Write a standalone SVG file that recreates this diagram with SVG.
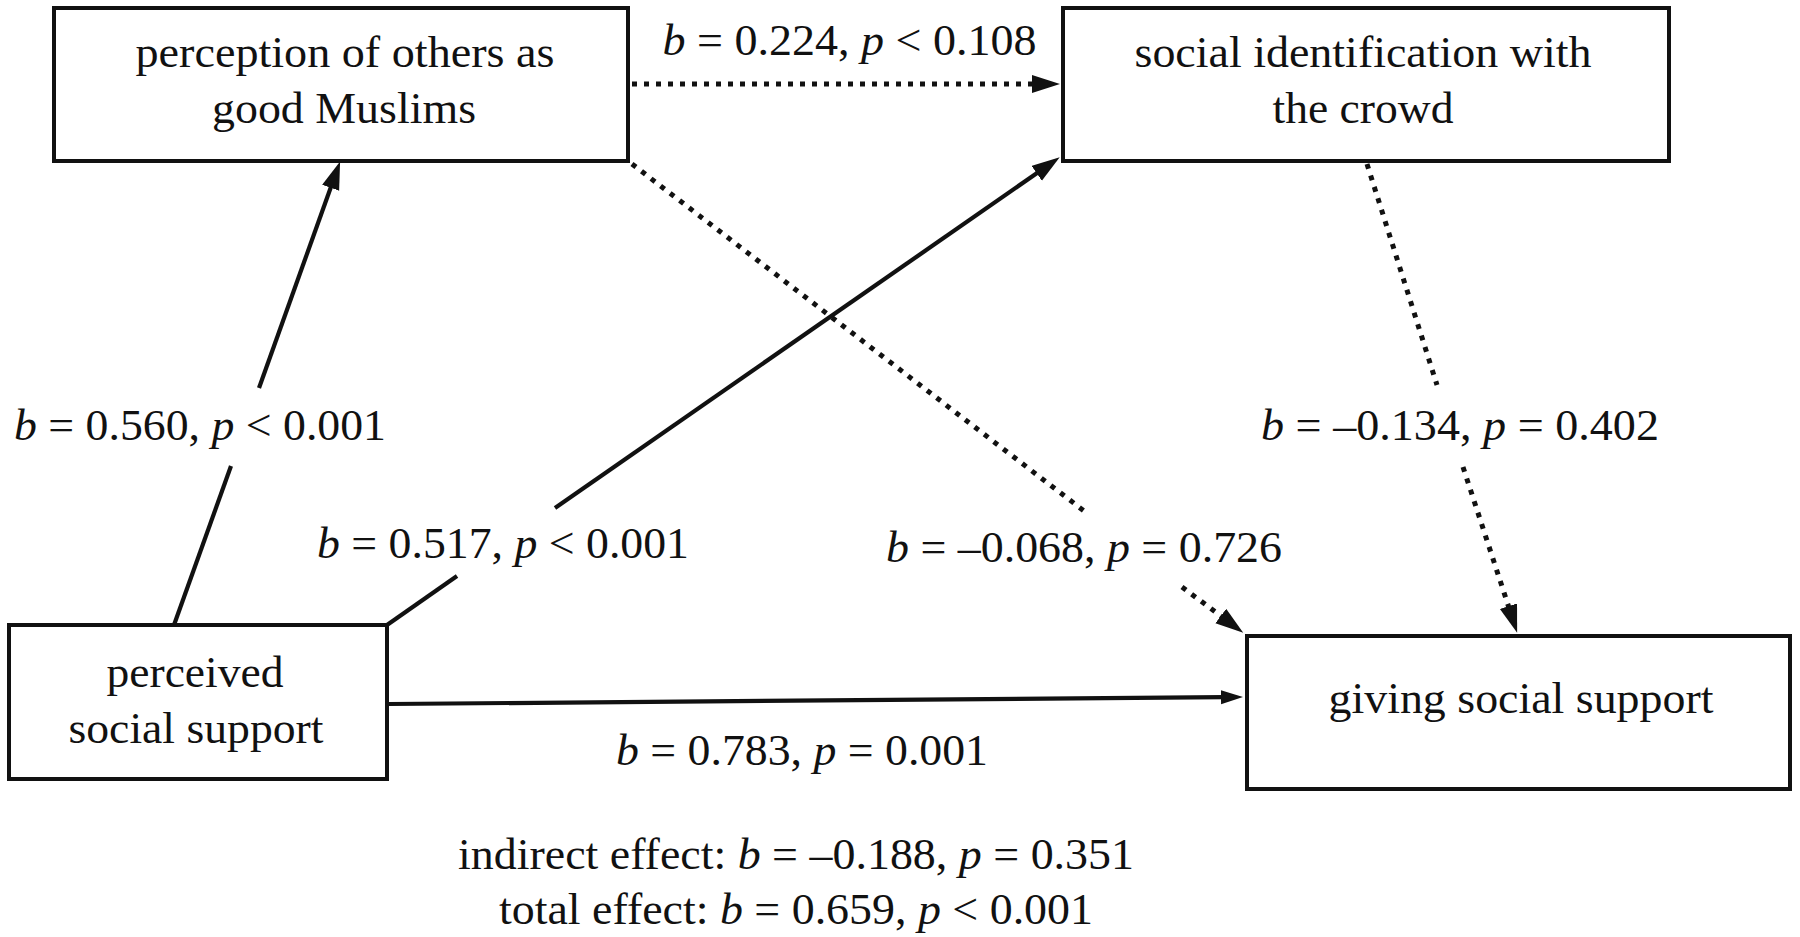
<svg xmlns="http://www.w3.org/2000/svg" width="1800" height="937" viewBox="0 0 1800 937">
<style>
.box{fill:#fff;stroke:#111;stroke-width:4}
.t{font-family:"Liberation Serif","Times New Roman",serif;font-size:44px;fill:#111;text-anchor:middle}
.i{font-style:italic}
.solid{fill:none;stroke:#111;stroke-width:4.2}
.dot{fill:none;stroke:#111;stroke-width:5;stroke-dasharray:5 7}
</style>
<defs>
<marker id="ah" markerUnits="userSpaceOnUse" markerWidth="30" markerHeight="20" refX="4" refY="9" orient="auto">
<path d="M0,0 L28,9 L0,18 z" fill="#111"/>
</marker>
<marker id="ahs" markerUnits="userSpaceOnUse" markerWidth="24" markerHeight="16" refX="3" refY="7" orient="auto">
<path d="M0,0 L22,7 L0,14 z" fill="#111"/>
</marker>
</defs>
<rect width="1800" height="937" fill="#fff"/>
<g id="connectors">
<line class="solid" x1="174" y1="625" x2="231" y2="466"/>
<line class="solid" x1="259" y1="388" x2="332" y2="184" marker-end="url(#ah)"/>
<line class="solid" x1="387" y1="625" x2="457" y2="576"/>
<line class="solid" x1="555" y1="508" x2="1040" y2="171" marker-end="url(#ah)"/>
<line class="dot" x1="632" y1="84" x2="1036" y2="84" marker-end="url(#ah)"/>
<line class="dot" x1="632" y1="164" x2="1088" y2="514"/>
<line class="dot" x1="1182" y1="587" x2="1224" y2="618.4" marker-end="url(#ah)"/>
<line class="dot" x1="1367" y1="164" x2="1437" y2="385"/>
<line class="dot" x1="1463" y1="467" x2="1509.7" y2="610" marker-end="url(#ah)"/>
<line class="solid" x1="389" y1="704" x2="1224" y2="697.2" marker-end="url(#ahs)"/>
</g>
<g id="node-perception">
<rect class="box" x="54" y="8" width="574" height="153"/>
<text class="t" x="345" y="67" textLength="419" lengthAdjust="spacingAndGlyphs">perception of others as</text>
<text class="t" x="344" y="123" textLength="264" lengthAdjust="spacingAndGlyphs">good Muslims</text>
</g>
<g id="node-identification">
<rect class="box" x="1063" y="8" width="606" height="153"/>
<text class="t" x="1363" y="67" textLength="457" lengthAdjust="spacingAndGlyphs">social identification with</text>
<text class="t" x="1363" y="123" textLength="181" lengthAdjust="spacingAndGlyphs">the crowd</text>
</g>
<g id="node-perceived">
<rect class="box" x="9" y="625" width="378" height="154"/>
<text class="t" x="195" y="687" textLength="177" lengthAdjust="spacingAndGlyphs">perceived</text>
<text class="t" x="196" y="743" textLength="255" lengthAdjust="spacingAndGlyphs">social support</text>
</g>
<g id="node-giving">
<rect class="box" x="1247" y="636" width="543" height="153"/>
<text class="t" x="1521" y="713" textLength="385" lengthAdjust="spacingAndGlyphs">giving social support</text>
</g>
<g id="labels">
<text class="t" x="849.5" y="55" textLength="374" lengthAdjust="spacingAndGlyphs"><tspan class="i">b</tspan> = 0.224, <tspan class="i">p</tspan> &lt; 0.108</text>
<text class="t" x="200" y="440" textLength="372" lengthAdjust="spacingAndGlyphs"><tspan class="i">b</tspan> = 0.560, <tspan class="i">p</tspan> &lt; 0.001</text>
<text class="t" x="503" y="558" textLength="372" lengthAdjust="spacingAndGlyphs"><tspan class="i">b</tspan> = 0.517, <tspan class="i">p</tspan> &lt; 0.001</text>
<text class="t" x="1084" y="562" textLength="396" lengthAdjust="spacingAndGlyphs"><tspan class="i">b</tspan> = –0.068, <tspan class="i">p</tspan> = 0.726</text>
<text class="t" x="1460" y="440" textLength="398" lengthAdjust="spacingAndGlyphs"><tspan class="i">b</tspan> = –0.134, <tspan class="i">p</tspan> = 0.402</text>
<text class="t" x="802" y="765" textLength="372" lengthAdjust="spacingAndGlyphs"><tspan class="i">b</tspan> = 0.783, <tspan class="i">p</tspan> = 0.001</text>
<text class="t" x="796" y="869" textLength="676" lengthAdjust="spacingAndGlyphs">indirect effect: <tspan class="i">b</tspan> = –0.188, <tspan class="i">p</tspan> = 0.351</text>
<text class="t" x="796" y="924" textLength="594" lengthAdjust="spacingAndGlyphs">total effect: <tspan class="i">b</tspan> = 0.659, <tspan class="i">p</tspan> &lt; 0.001</text>
</g>
</svg>
